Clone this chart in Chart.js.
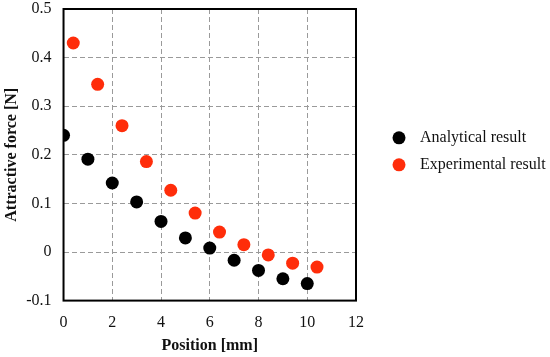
<!DOCTYPE html>
<html>
<head>
<meta charset="utf-8">
<script src="https://cdn.jsdelivr.net/npm/chart.js@4"></script>
<style>
  html, body { margin: 0; padding: 0; background: #fff; }
  #wrap { width: 550px; height: 357px; }
</style>
</head>
<body>
<div id="wrap"><canvas id="chart"></canvas></div>
<script>
// values
const analyticalX = [0, 1, 2, 3, 4, 5, 6, 7, 8, 9, 10];
const analyticalY = [0.240, 0.191, 0.142, 0.103, 0.063, 0.029, 0.008, -0.017, -0.038, -0.055, -0.065];

const experimentalX = [0.4, 1.4, 2.4, 3.4, 4.4, 5.4, 6.4, 7.4, 8.4, 9.4, 10.4];
const experimentalY = [0.430, 0.345, 0.260, 0.186, 0.127, 0.080, 0.041, 0.015, -0.006, -0.023, -0.031];

const xTicks = { min: 0, max: 12, step: 2 };
const yTicks = { min: -0.1, max: 0.5, step: 0.1 };

const serif = '"Liberation Serif", "Times New Roman", serif';

function toPoints(xs, ys) {
    return xs.map((x, i) => ({ x: x, y: ys[i] }));
}

// black frame round the plot area, drawn under the points
const framePlugin = {
    id: 'frame',
    beforeDatasetsDraw(chart) {
        const { ctx, chartArea: a } = chart;
        ctx.save();
        ctx.strokeStyle = '#000';
        ctx.lineWidth = 2;
        ctx.strokeRect(a.left, a.top, a.right - a.left, a.bottom - a.top);
        ctx.restore();
    }
};

// simple legend to the right of the plot
const sideLegend = {
    id: 'sideLegend',
    afterDraw(chart) {
        const { ctx, chartArea: a } = chart;
        const mid = (a.top + a.bottom) / 2;
        ctx.save();
        ctx.font = '16px ' + serif;
        ctx.textBaseline = 'middle';
        chart.data.datasets.forEach((ds, i) => {
            const y = mid - 17 + i * 27;
            ctx.beginPath();
            ctx.arc(a.right + 43, y, 6.5, 0, Math.PI * 2);
            ctx.fillStyle = ds.backgroundColor;
            ctx.fill();
            ctx.fillStyle = '#111';
            ctx.fillText(ds.label, a.right + 64, y);
        });
        ctx.restore();
    }
};

const ctx = document.getElementById('chart').getContext('2d');

new Chart(ctx, {
    type: 'scatter',
    data: {
        datasets: [
            {
                label: 'Analytical result',
                data: toPoints(analyticalX, analyticalY),
                backgroundColor: '#000000',
                borderWidth: 0,
                pointRadius: 6.5,
                pointHoverRadius: 6.5
            },
            {
                label: 'Experimental result',
                data: toPoints(experimentalX, experimentalY),
                backgroundColor: '#ff2d0a',
                borderWidth: 0,
                pointRadius: 6.5,
                pointHoverRadius: 6.5
            }
        ]
    },
    options: {
        responsive: true,
        maintainAspectRatio: false,
        animation: false,
        layout: {
            padding: { top: 9, right: 194, left: 2, bottom: 2 }
        },
        scales: {
            x: {
                type: 'linear',
                min: xTicks.min,
                max: xTicks.max,
                ticks: {
                    stepSize: xTicks.step,
                    color: '#111',
                    font: { family: serif, size: 16 },
                    padding: 13
                },
                grid: {
                    color: '#9a9a9a',
                    lineWidth: 1,
                    drawTicks: false
                },
                border: { display: false, dash: [5, 3] },
                title: {
                    display: true,
                    text: 'Position [mm]',
                    color: '#111',
                    font: { family: serif, size: 16, weight: 'bold' },
                    padding: { top: -10, bottom: 0 }
                }
            },
            y: {
                type: 'linear',
                min: yTicks.min,
                max: yTicks.max,
                afterFit: s => { s.paddingTop = 0; },
                ticks: {
                    stepSize: yTicks.step,
                    color: '#111',
                    font: { family: serif, size: 16 },
                    padding: 12,
                    callback: v => String(Math.round(v * 10) / 10)
                },
                grid: {
                    color: '#9a9a9a',
                    lineWidth: 1,
                    drawTicks: false
                },
                border: { display: false, dash: [5, 3] },
                title: {
                    display: true,
                    text: 'Attractive force [N]',
                    color: '#111',
                    font: { family: serif, size: 16, weight: 'bold' },
                    padding: { top: 0, bottom: -7 }
                }
            }
        },
        plugins: {
            legend: { display: false },
            tooltip: { enabled: false }
        }
    },
    plugins: [framePlugin, sideLegend]
});
</script>
</body>
</html>
